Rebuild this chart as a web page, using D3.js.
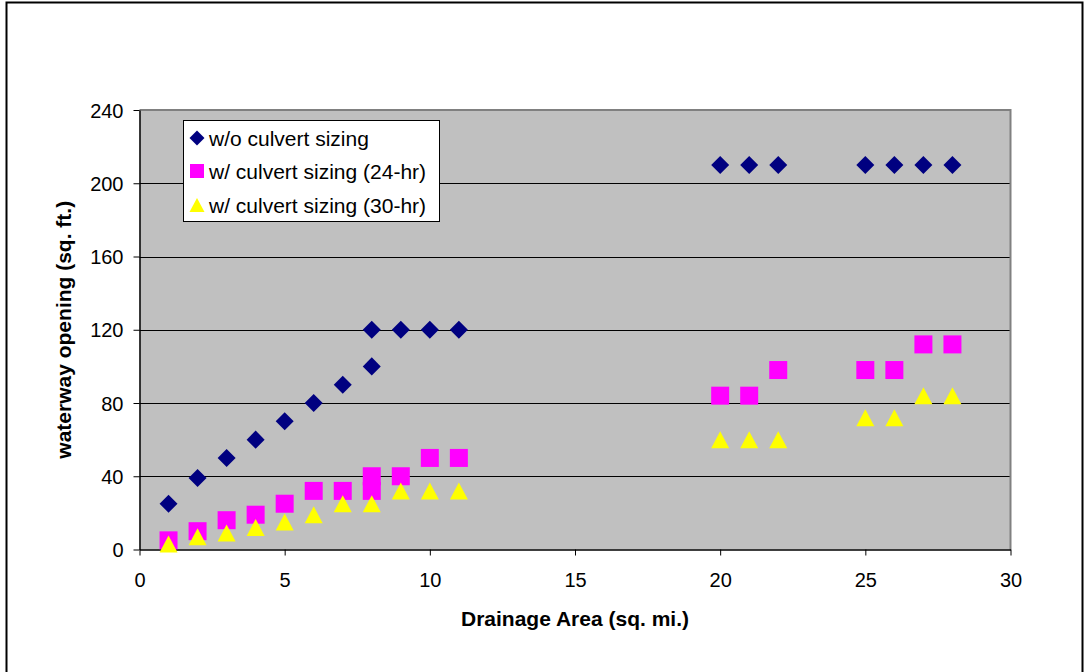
<!DOCTYPE html>
<html>
<head>
<meta charset="utf-8">
<script src="https://cdn.jsdelivr.net/npm/d3@7"></script>
<style>
  html, body { margin: 0; padding: 0; background: #fff; }
  text { font-family: Arial, "Liberation Sans", sans-serif; }
</style>
</head>
<body>
<svg id="chart" width="1087" height="672"></svg>
<script>
// Drainage area (sq. mi.) and waterway opening (sq. ft.) for each sizing approach
const areaNoSizing   = [1, 2, 3, 4, 5, 6, 7, 8, 8, 9, 10, 11, 20, 21, 22, 25, 26, 27, 28];
const openNoSizing   = [25, 39, 50, 60, 70, 80, 90, 100, 120, 120, 120, 120, 210, 210, 210, 210, 210, 210, 210];

const area24hr       = [1, 2, 3, 4, 5, 6, 7, 8, 8, 9, 10, 11, 20, 21, 22, 25, 26, 27, 28];
const open24hr       = [5, 10, 16, 19, 25, 32, 32, 32, 40, 40, 50, 50, 84, 84, 98, 98, 98, 112, 112];

const area30hr       = [1, 2, 3, 4, 5, 6, 7, 8, 9, 10, 11, 20, 21, 22, 25, 26, 27, 28];
const open30hr       = [3, 7, 9, 12, 15, 19, 25, 25, 32, 32, 32, 60, 60, 60, 72, 72, 84, 84];

const seriesNames = ["w/o culvert sizing", "w/ culvert sizing (24-hr)", "w/ culvert sizing (30-hr)"];
const xTicks = [0, 5, 10, 15, 20, 25, 30];
const yTicks = [0, 40, 80, 120, 160, 200, 240];

const svg = d3.select("#chart");

// outer chart frame
svg.append("rect")
  .attr("x", 6.5).attr("y", 2.5)
  .attr("width", 1076).attr("height", 700)
  .attr("fill", "none").attr("stroke", "#000").attr("stroke-width", 2);

const plot = { left: 139.5, top: 110, right: 1010.5, bottom: 549.5 };

const x = d3.scaleLinear().domain([0, 30]).range([plot.left, plot.right]);
const y = d3.scaleLinear().domain([0, 240]).range([plot.bottom, plot.top]);

// plot area background
svg.append("rect")
  .attr("x", plot.left).attr("y", plot.top)
  .attr("width", plot.right - plot.left).attr("height", plot.bottom - plot.top)
  .attr("fill", "#C0C0C0");

// horizontal gridlines
svg.append("g")
  .selectAll("line")
  .data(yTicks.filter(v => v > 0 && v < 240))
  .join("line")
  .attr("x1", plot.left).attr("x2", plot.right)
  .attr("y1", d => Math.round(y(d)) + 0.5).attr("y2", d => Math.round(y(d)) + 0.5)
  .attr("stroke", "#000").attr("stroke-width", 1);

// top and right plot-area border
svg.append("path")
  .attr("d", `M${plot.left},${plot.top} H${plot.right} V${plot.bottom}`)
  .attr("fill", "none").attr("stroke", "#808080").attr("stroke-width", 2);

// axes
const xAxis = d3.axisBottom(x).tickValues(xTicks).tickSize(6).tickSizeOuter(0).tickPadding(17);
const yAxis = d3.axisLeft(y).tickValues(yTicks).tickSize(6).tickSizeOuter(0).tickPadding(10);

const gx = svg.append("g").attr("transform", `translate(0,${plot.bottom})`).call(xAxis);
const gy = svg.append("g").attr("transform", `translate(${plot.left},0)`).call(yAxis);

[gx, gy].forEach(g => {
  g.select(".domain").attr("stroke", "#000").attr("stroke-width", 1.5);
  g.selectAll(".tick line").attr("stroke", "#000");
  g.selectAll(".tick text")
    .attr("fill", "#000")
    .style("font-family", "Arial, 'Liberation Sans', sans-serif")
    .style("font-size", "20px");
});
gy.selectAll(".tick text").attr("dy", "0.36em");

// axis titles
svg.append("text")
  .attr("x", (plot.left + plot.right) / 2).attr("y", 626)
  .attr("text-anchor", "middle")
  .style("font-size", "21px").style("font-weight", "bold")
  .text("Drainage Area (sq. mi.)");

svg.append("text")
  .attr("transform", `translate(71,${(plot.top + plot.bottom) / 2}) rotate(-90)`)
  .attr("text-anchor", "middle")
  .style("font-size", "21px").style("font-weight", "bold")
  .text("waterway opening (sq. ft.)");

// marker shapes
const diamond = d3.symbol().type(d3.symbolSquare).size(162);
const square = d3.symbol().type(d3.symbolSquare).size(324);
function trianglePath(cx, cy) {
  const w = 18, h = 17;
  return `M${cx},${cy - h / 2} L${cx + w / 2},${cy + h / 2} L${cx - w / 2},${cy + h / 2} Z`;
}

const pts = (xs, ys) => xs.map((v, i) => ({ x: v, y: ys[i] }));

const markers = svg.append("g");

markers.append("g").selectAll("path")
  .data(pts(areaNoSizing, openNoSizing))
  .join("path")
  .attr("d", diamond)
  .attr("transform", d => `translate(${x(d.x)},${y(d.y)}) rotate(45)`)
  .attr("fill", "#000080");

markers.append("g").selectAll("path")
  .data(pts(area24hr, open24hr))
  .join("path")
  .attr("d", square)
  .attr("transform", d => `translate(${x(d.x)},${y(d.y)})`)
  .attr("fill", "#FF00FF");

markers.append("g").selectAll("path")
  .data(pts(area30hr, open30hr))
  .join("path")
  .attr("d", d => trianglePath(x(d.x), y(d.y)))
  .attr("fill", "#FFFF00");

// legend
const legend = svg.append("g");
legend.append("rect")
  .attr("x", 183.5).attr("y", 120.5)
  .attr("width", 256).attr("height", 101)
  .attr("fill", "#fff").attr("stroke", "#000").attr("stroke-width", 1);

const rowY = [138, 171, 205];
legend.append("path")
  .attr("d", d3.symbol().type(d3.symbolSquare).size(112))
  .attr("transform", `translate(197,${rowY[0]}) rotate(45)`)
  .attr("fill", "#000080");
legend.append("path")
  .attr("d", d3.symbol().type(d3.symbolSquare).size(196))
  .attr("transform", `translate(197,${rowY[1]})`)
  .attr("fill", "#FF00FF");
legend.append("path")
  .attr("d", `M197,${rowY[2] - 7} L204.5,${rowY[2] + 7} L189.5,${rowY[2] + 7} Z`)
  .attr("fill", "#FFFF00");

legend.selectAll("text.entry")
  .data(seriesNames)
  .join("text")
  .attr("class", "entry")
  .attr("x", 209).attr("y", (d, i) => rowY[i])
  .attr("dy", "0.36em")
  .style("font-size", "21px")
  .attr("fill", "#000")
  .text(d => d);
</script>
</body>
</html>
